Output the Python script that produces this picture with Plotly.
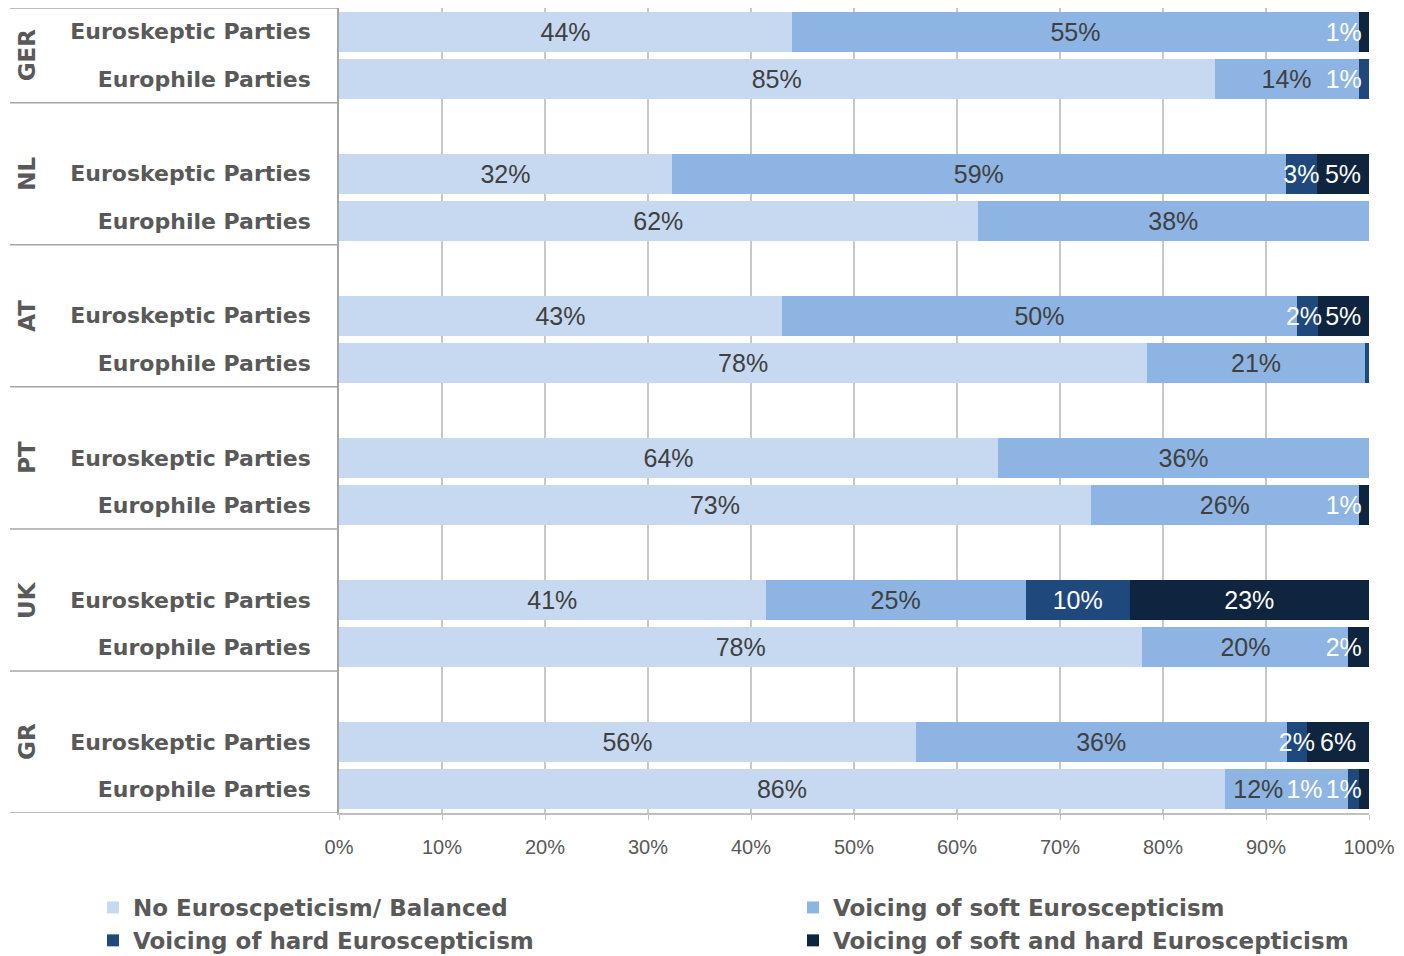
import numpy as np
import plotly.graph_objects as go

# ---- data ---------------------------------------------------------------
countries = ["GER", "NL", "AT", "PT", "UK", "GR"]
party_types = ["Euroskeptic Parties", "Europhile Parties"]
series_names = [
    "No Euroscpeticism/ Balanced",
    "Voicing of soft Euroscepticism",
    "Voicing of hard Euroscepticism",
    "Voicing of soft and hard Euroscepticism",
]
# one value per bar: GER skeptic, GER phile, NL skeptic, NL phile, ...
no_euroscepticism = [44, 85, 32, 62, 43, 78, 64, 73, 41, 78, 56, 86]
soft_euroscepticism = [55, 14, 59, 38, 50, 21, 36, 26, 25, 20, 36, 12]
hard_euroscepticism = [0, 1, 3, 0, 2, 0.4, 0, 0, 10, 0, 2, 1]
soft_and_hard = [1, 0, 5, 0, 5, 0, 0, 1, 23, 2, 6, 1]
x_tick_values = [0, 10, 20, 30, 40, 50, 60, 70, 80, 90, 100]
x_tick_labels = [f"{v}%" for v in x_tick_values]

# ---- styling --------------------------------------------------------------
colors = ["#C6D9F1", "#8EB4E3", "#1F497D", "#0F243E"]
label_colors = ["#404040", "#404040", "#FFFFFF", "#FFFFFF"]
grey_text = "#595959"
FONT = "Liberation Sans, Arial, sans-serif"
BOLD_FONT = "DejaVu Sans, Verdana, sans-serif"
LABEL_SIZE = 25
BAR_WIDTH = 0.84
LABEL_DROP = 0.06  # nudge labels slightly below the bar centre line
LABEL_LIMIT = 99.3  # right-most position a label may reach

# slot layout: each country takes two bars, with an empty slot before
# every country after the first
slots = [3 * g + r for g in range(len(countries)) for r in range(len(party_types))]
row_labels = [p for _ in countries for p in party_types]
boundaries = [-0.5] + [3 * g + 1.5 for g in range(len(countries))]

series = np.array([no_euroscepticism, soft_euroscepticism,
                   hard_euroscepticism, soft_and_hard], dtype=float)

fig = go.Figure()
for k, name in enumerate(series_names):
    fig.add_trace(go.Bar(
        y=slots, x=series[k], orientation="h", name=name,
        width=BAR_WIDTH, marker=dict(color=colors[k], line=dict(width=0)),
        legend="legend" if k in (0, 2) else "legend2",
        hoverinfo="skip",
    ))

# ---- data labels (centred in each segment, kept inside the axis) ---------
shares = series / series.sum(axis=0) * 100.0
ends = np.cumsum(shares, axis=0)
centres = ends - shares / 2.0

px_per_unit = 1030 / 100.0


def label_width(txt):
    # rough advance width in axis units for the label font
    w = 0
    for ch in txt:
        w += 0.889 if ch == "%" else 0.556
    return w * LABEL_SIZE / px_per_unit


lx, ly, lt, lc = [], [], [], []
for j in range(series.shape[1]):
    items = []
    for k in range(series.shape[0]):
        v = series[k, j]
        if v >= 1:
            items.append((centres[k, j], f"{v:g}%", label_colors[k]))
    limit = LABEL_LIMIT
    placed = []
    for c, txt, col in reversed(items):
        half = label_width(txt) / 2
        c = min(c, limit - half)
        limit = c - half - 0.3
        placed.append((c, txt, col))
    for c, txt, col in placed:
        lx.append(c)
        ly.append(slots[j] + LABEL_DROP)
        lt.append(txt)
        lc.append(col)

fig.add_trace(go.Scatter(
    x=lx, y=ly, text=lt, mode="text", showlegend=False, hoverinfo="skip",
    textposition="middle center", cliponaxis=False,
    textfont=dict(family=FONT, size=LABEL_SIZE, color=lc),
))

# ---- left-hand group separators and country names ------------------------
plot_left, plot_w = 339, 1030
plot_bottom, plot_h = 813, 805
sep_x0 = (10 - plot_left) / plot_w
for b in boundaries:
    fig.add_shape(type="line", xref="paper", yref="y", x0=sep_x0, x1=0,
                  y0=b, y1=b, line=dict(color="#A6A6A6", width=1.5))

for g, c in enumerate(countries):
    yc = (boundaries[g] + boundaries[g + 1]) / 2
    fig.add_annotation(
        text=c, xref="paper", yref="y", x=(27 - plot_left) / plot_w, y=yc,
        textangle=-90, showarrow=False, xanchor="center", yanchor="middle",
        font=dict(family=BOLD_FONT, size=23, color=grey_text, weight="bold"),
    )

legend_font = dict(family=BOLD_FONT, size=23, color=grey_text, weight="bold")
legend_y = -(886 - plot_bottom) / plot_h

# ---- layout ----------------------------------------------------------------
fig.update_layout(
    width=1404, height=956,
    margin=dict(l=339, r=35, t=8, b=143, autoexpand=False),
    barmode="stack", barnorm="percent",
    paper_bgcolor="white", plot_bgcolor="white",
    font=dict(family=FONT, color=grey_text),
    xaxis=dict(
        range=[0, 100], tickvals=x_tick_values, ticktext=x_tick_labels,
        showgrid=True, gridcolor="#C8C8C8", gridwidth=1.5,
        showline=True, linecolor="#BFBFBF", linewidth=1.5,
        ticks="outside", ticklen=5, tickcolor="#BFBFBF",
        tickfont=dict(family=FONT, size=20, color=grey_text),
        ticklabelstandoff=10, zeroline=False,
    ),
    yaxis=dict(
        range=[16.5, -0.5], tickvals=slots, ticktext=row_labels,
        showgrid=False, zeroline=False,
        showline=True, linecolor="#A6A6A6", linewidth=1.5,
        ticks="", ticklabelstandoff=22,
        tickfont=dict(family=BOLD_FONT, size=22, color=grey_text, weight="bold"),
    ),
    legend=dict(
        x=(93 - plot_left) / plot_w, y=legend_y, xanchor="left", yanchor="top",
        orientation="v", traceorder="normal", tracegroupgap=0,
        font=legend_font, bgcolor="rgba(0,0,0,0)",
    ),
    legend2=dict(
        x=(793 - plot_left) / plot_w, y=legend_y, xanchor="left", yanchor="top",
        orientation="v", traceorder="normal", tracegroupgap=0,
        font=legend_font, bgcolor="rgba(0,0,0,0)",
    ),
)

fig.write_html("out.html")
